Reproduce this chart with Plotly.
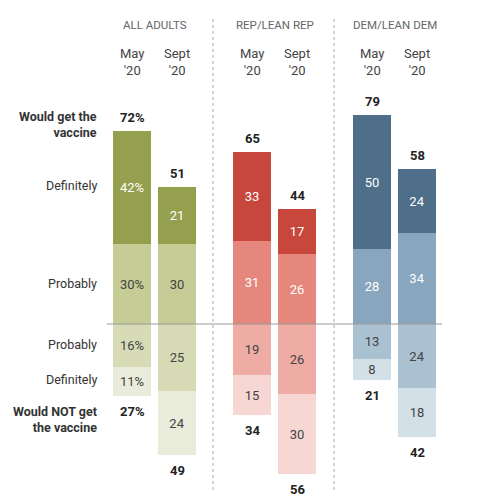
import plotly.graph_objects as go

# ---------------- data ----------------
groups = ["ALL ADULTS", "REP/LEAN REP", "DEM/LEAN DEM"]
periods = ["May<br>'20", "Sept<br>'20"]
definitely = [[42, 21], [33, 17], [50, 24]]
probably = [[30, 30], [31, 26], [28, 34]]
probably_not = [[16, 25], [19, 26], [13, 24]]
definitely_not = [[11, 24], [15, 30], [8, 18]]
would_get = [[72, 51], [65, 44], [79, 58]]
would_not = [[27, 49], [34, 56], [21, 42]]

colors = {
    "def": ["#95a04f", "#c7473d", "#4e6e89"],
    "prob": ["#c5cc95", "#e6877d", "#88a6bd"],
    "pnot": ["#d6dbb6", "#eeaca5", "#aac1d1"],
    "dnot": ["#e9ecda", "#f6d7d3", "#d3e0e8"],
}
text_col = {
    "def": ["white", "white", "white"],
    "prob": ["#444", "white", "white"],
    "pnot": ["#444", "#444", "#444"],
    "dnot": ["#444", "#444", "#444"],
}

OFF = 8  # page body margin
W, H = 488 - OFF, 500 - OFF
ZERO_PX = 324 - OFF
PPU = 2.68
y_top = ZERO_PX / PPU
y_bot = -(H - ZERO_PX) / PPU

def py(px):
    return 1 - (px - OFF) / H

# bar x positions (window-pixel scaled axis)
centers = []
for g in range(3):
    for p in range(2):
        centers.append(132 + g * 120 + p * 45)
BAR_W = 38

fig = go.Figure()

def seg_trace(key, vals, base, sign):
    xs, ys, bs, txt, cols, tcols = [], [], [], [], [], []
    i = 0
    for g in range(3):
        for p in range(2):
            v = vals[g][p]
            xs.append(centers[i])
            ys.append(sign * v)
            bs.append(base[g][p])
            txt.append(f"{v}%" if (g == 0 and p == 0) else f"{v}")
            cols.append(colors[key][g])
            tcols.append(text_col[key][g])
            i += 1
    fig.add_trace(go.Bar(
        x=xs, y=ys, base=bs, width=BAR_W,
        marker=dict(color=cols, line=dict(width=0)),
        text=txt, textposition="inside", insidetextanchor="middle",
        textangle=0, constraintext="none",
        textfont=dict(color=tcols, size=13, family="Roboto"),
        hoverinfo="skip", showlegend=False,
    ))

zeros = [[0, 0] for _ in range(3)]
seg_trace("prob", probably, zeros, 1)
seg_trace("def", definitely, probably, 1)
seg_trace("pnot", probably_not, zeros, -1)
seg_trace("dnot", definitely_not, [[-v for v in r] for r in probably_not], -1)

ann = []
i = 0
for g in range(3):
    for p in range(2):
        up = probably[g][p] + definitely[g][p]
        dn = probably_not[g][p] + definitely_not[g][p]
        sfx = "%" if (g == 0 and p == 0) else ""
        ann.append(dict(x=centers[i], y=up, xref="x", yref="y", yanchor="bottom",
                        yshift=4, text=f"<b>{would_get[g][p]}{sfx}</b>", showarrow=False,
                        font=dict(size=13, color="#222", family="Roboto")))
        ann.append(dict(x=centers[i], y=-dn, xref="x", yref="y", yanchor="top",
                        yshift=-6, text=f"<b>{would_not[g][p]}{sfx}</b>", showarrow=False,
                        font=dict(size=13, color="#222", family="Roboto")))
        ann.append(dict(x=centers[i], y=py(62), xref="x", yref="paper", yanchor="middle",
                        text=periods[p], showarrow=False,
                        font=dict(size=13, color="#444", family="Roboto")))
        i += 1
    ann.append(dict(x=(centers[2 * g] + centers[2 * g + 1]) / 2, y=py(25), xref="x", yref="paper",
                    yanchor="middle", text=groups[g], showarrow=False,
                    font=dict(size=11.5, color="#666", family="Roboto")))

row_labels = [
    ("<b>Would get the<br>vaccine</b>", 124),
    ("Definitely", 185),
    ("Probably", 283),
    ("Probably", 344),
    ("Definitely", 379),
    ("<b>Would NOT get<br>the vaccine</b>", 419),
]
for t, ypx in row_labels:
    ann.append(dict(x=99, y=py(ypx), xref="x", yref="paper", xanchor="right", yanchor="middle",
                    align="right", text=t, showarrow=False,
                    font=dict(size=12.5, color="#333", family="Roboto")))

shapes = [
    dict(type="line", xref="x", yref="y", x0=107, x1=442, y0=0, y1=0,
         line=dict(color="#9a9a9a", width=1), layer="above"),
]
for xd in (213, 334):
    shapes.append(dict(type="line", xref="x", yref="paper", x0=xd, x1=xd, y0=py(490), y1=py(18),
                       line=dict(color="#aaa", width=1, dash="dot")))

fig.update_layout(
    width=W, height=H, margin=dict(l=0, r=0, t=0, b=0),
    paper_bgcolor="white", plot_bgcolor="white",
    barmode="overlay", bargap=0,
    xaxis=dict(range=[OFF, OFF + W], visible=False, fixedrange=True),
    yaxis=dict(range=[y_bot, y_top], visible=False, fixedrange=True),
    annotations=ann, shapes=shapes,
    font=dict(family="Roboto"),
)

fig.write_html("out.html")
